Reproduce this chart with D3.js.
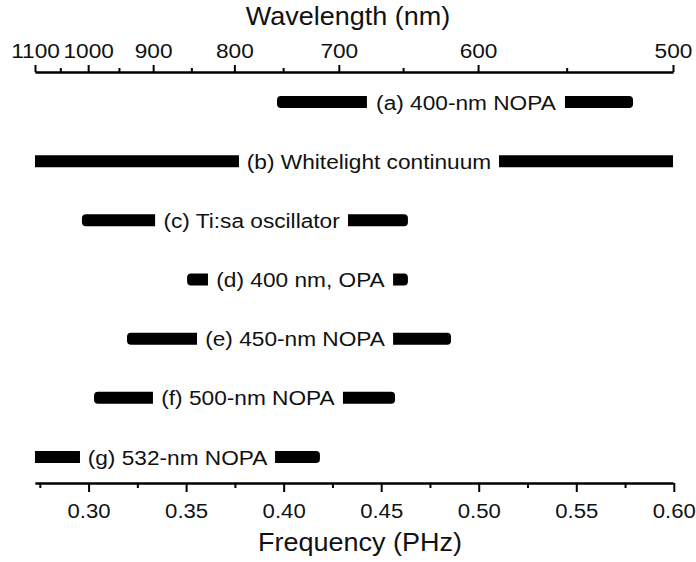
<!DOCTYPE html>
<html>
<head>
<meta charset="utf-8">
<script src="https://cdn.jsdelivr.net/npm/d3@7"></script>
<style>
  html, body { margin: 0; padding: 0; background: #fff; }
  svg { display: block; }
  text { font-family: "Liberation Sans", Arial, sans-serif; fill: #111; }
</style>
</head>
<body>
<svg id="chart" width="696" height="562"></svg>
<script>
// ---- data ----
const C = 299.792458; // speed of light, nm*PHz
const wlMajor = [1100, 1000, 900, 800, 700, 600, 500];
const wlMinor = [1050, 950, 850, 750, 650, 550];
const freqMajor = [0.30, 0.35, 0.40, 0.45, 0.50, 0.55, 0.60];
const freqMinor = [0.275, 0.325, 0.375, 0.425, 0.475, 0.525, 0.575];

const sources = ["(a) 400-nm NOPA", "(b) Whitelight continuum", "(c) Ti:sa oscillator",
                 "(d) 400 nm, OPA", "(e) 450-nm NOPA", "(f) 500-nm NOPA", "(g) 532-nm NOPA"];
// spectral coverage (PHz)
const freqLo = [0.3966, 0.25,   0.2966, 0.3505, 0.3197, 0.3028, 0.26];
const freqHi = [0.5791, 0.65,   0.4637, 0.4637, 0.4858, 0.4571, 0.4186];
// label gaps in bars (PHz)
const gapLo  = [0.4427, 0.3771, 0.3341, 0.3612, 0.3556, 0.3330, 0.2956];
const gapHi  = [0.5442, 0.5104, 0.4330, 0.4561, 0.4561, 0.4304, 0.3956];

const xTitle = "Frequency (PHz)";
const topTitle = "Wavelength (nm)";

// ---- layout ----
const svg = d3.select("#chart");
const left = 35, right = 673, topAxisY = 72, botAxisY = 483;
const sx = 1.08; // horizontal glyph stretch

const x = d3.scaleLinear().domain([C / 1100, C / 500]).range([left, right]);
const y = d3.scalePoint().domain(sources).range([102, 457]);

svg.append("defs").append("clipPath").attr("id", "plotclip")
  .append("rect").attr("x", left).attr("y", 80).attr("width", right - left).attr("height", 395);

// bars
const rows = sources.map((s, i) => ({ s, lo: freqLo[i], hi: freqHi[i], gl: gapLo[i], gh: gapHi[i] }));
const g = svg.append("g");
const barH = 12;
g.append("g").attr("clip-path", "url(#plotclip)")
  .selectAll("rect").data(rows).join("rect")
  .attr("x", d => x(d.lo)).attr("width", d => x(d.hi) - x(d.lo))
  .attr("y", d => y(d.s) - barH / 2).attr("height", barH)
  .attr("rx", 4).attr("ry", 4).attr("fill", "#000");
g.append("g").selectAll("rect").data(rows).join("rect")
  .attr("x", d => x(d.gl)).attr("width", d => x(d.gh) - x(d.gl))
  .attr("y", d => y(d.s) - barH / 2 - 2).attr("height", barH + 4)
  .attr("fill", "#fff");
g.append("g").selectAll("text").data(rows).join("text")
  .attr("transform", d => `translate(${(x(d.gl) + x(d.gh)) / 2},${y(d.s) + 7.5}) scale(${sx},1)`)
  .attr("text-anchor", "middle")
  .style("font-size", "21px")
  .text(d => d.s);

// bottom axis
const botMajor = d3.axisBottom(x).tickValues(freqMajor).tickFormat(d3.format(".2f"))
  .tickSize(9).tickSizeOuter(0).tickPadding(11);
const gb = svg.append("g").attr("transform", `translate(0,${botAxisY})`).call(botMajor);
const botMinor = d3.axisBottom(x).tickValues(freqMinor).tickFormat("").tickSize(5).tickSizeOuter(0);
svg.append("g").attr("transform", `translate(0,${botAxisY})`).call(botMinor);

// top axis
const topMajor = d3.axisTop(x).tickValues(wlMajor.map(l => C / l))
  .tickFormat(f => Math.round(C / f)).tickSize(7).tickSizeOuter(0).tickPadding(7);
const gt = svg.append("g").attr("transform", `translate(0,${topAxisY})`).call(topMajor);
const topMinor = d3.axisTop(x).tickValues(wlMinor.map(l => C / l)).tickFormat("").tickSize(4).tickSizeOuter(0);
svg.append("g").attr("transform", `translate(0,${topAxisY})`).call(topMinor);

svg.selectAll(".domain").attr("stroke", "#000").attr("stroke-width", 2);
svg.selectAll(".tick line").attr("stroke", "#000").attr("stroke-width", 2);
svg.selectAll(".tick text").attr("fill", "#111").attr("font-family", null)
  .attr("font-size", null).attr("transform", `scale(${sx},1)`);
gb.selectAll(".tick text").style("font-size", "20.5px");
gt.selectAll(".tick text").style("font-size", "21px");

// titles
svg.append("text").attr("transform", `translate(348,25) scale(${sx},1)`)
  .attr("text-anchor", "middle").style("font-size", "25px").text(topTitle);
svg.append("text").attr("transform", `translate(360,551) scale(${sx},1)`)
  .attr("text-anchor", "middle").style("font-size", "25px").text(xTitle);
</script>
</body>
</html>
